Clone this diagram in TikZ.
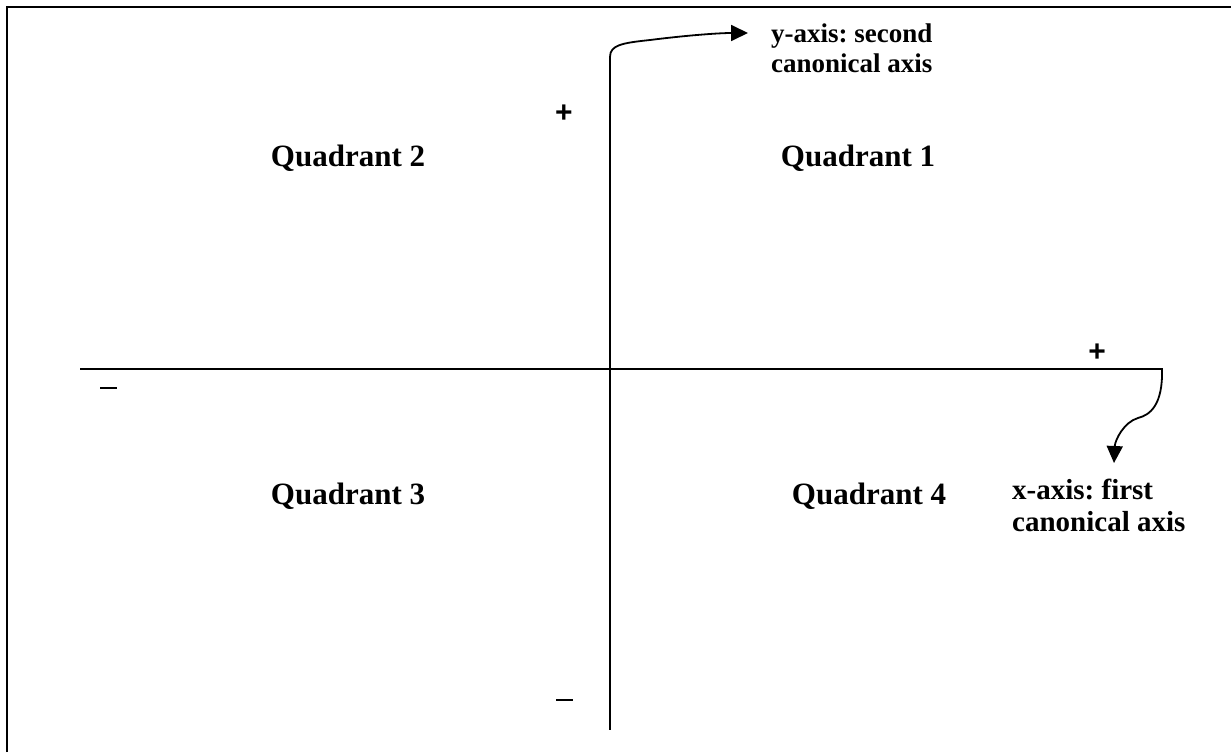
\documentclass[tikz,border=0pt]{standalone}
\usepackage{fontspec}
\setmainfont{Liberation Serif}
\newfontfamily\signfont{Liberation Sans}
\usetikzlibrary{arrows.meta}
\begin{document}
\frenchspacing
\begin{tikzpicture}[x=1pt,y=-1pt,
  axisline/.style={line width=2pt,line cap=rect},
  arr/.style={line width=1.8pt,-{Triangle[length=17pt,width=16pt]}},
  quad/.style={font=\fontsize{31}{36}\selectfont\bfseries,inner sep=0pt},
  axlabel/.style={font=\fontsize{27}{30}\selectfont\bfseries,align=left,inner sep=0pt,anchor=north west},
  sign/.style={font=\fontsize{30}{32}\selectfont\signfont\bfseries,inner sep=0pt}]
\useasboundingbox (0,0) rectangle (1231,752);
% frame (top and left edges visible)
\draw[line width=2pt] (7,752) -- (7,7) -- (1231,7);
% axes
\coordinate (yb) at (610,729);
\coordinate (yt) at (610,57);
\coordinate (xl) at (81,369);
\coordinate (xr) at (1162,369);
\draw[axisline] (yb) -- (yt);
\draw[axisline] (xl) -- (xr);
% labels
\node[axlabel] (ylab) at (771,24) {y-axis: second\\canonical axis};
\node[axlabel,font=\fontsize{29}{32}\selectfont\bfseries] (xlab) at (1012,479) {x-axis: first\\canonical axis};
\coordinate (ytip) at (748,33);
\coordinate (xtip) at (1114,463);
\draw[arr] (yt) .. controls (610,45) and (622,43) .. (650,40) .. controls (690,35) and (720,33) .. (ytip);
\draw[arr] (xr) .. controls (1163,405) and (1150,415) .. (1138,418) .. controls (1124,422) and (1115,440) .. (xtip);
% quadrant names
\node[quad] (q1) at (858,158) {Quadrant 1};
\node[quad] (q2) at (348,158) {Quadrant 2};
\node[quad] (q3) at (348,496) {Quadrant 3};
\node[quad] (q4) at (869,496) {Quadrant 4};
% signs
\node[sign] (yplus) at (564,114) {+};
\node[sign] (xplus) at (1097,353) {+};
\draw[line width=1.6pt] (100,388) -- (117,388) coordinate (xminus);
\draw[line width=1.6pt] (556,700) -- (573,700) coordinate (yminus);
\end{tikzpicture}
\end{document}
